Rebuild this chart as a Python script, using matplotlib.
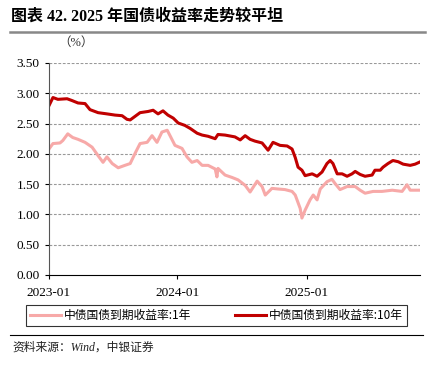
import matplotlib
matplotlib.use("Agg")
import matplotlib.pyplot as plt
import matplotlib.dates as mdates
import pandas as pd

plt.rcParams["font.family"] = ["Liberation Serif", "Noto Sans CJK SC", "DejaVu Sans"]

# 中债国债到期收益率:10年
dates_10y = [
    "2023-01-03", "2023-01-13", "2023-01-27", "2023-02-22", "2023-03-08", "2023-03-25",
    "2023-04-14", "2023-04-28", "2023-05-21", "2023-06-15", "2023-07-08", "2023-07-28",
    "2023-08-11", "2023-08-20", "2023-09-03", "2023-09-17", "2023-10-10", "2023-10-24",
    "2023-11-07", "2023-11-21", "2023-12-05", "2023-12-20", "2024-01-03", "2024-01-22",
    "2024-02-06", "2024-02-26", "2024-03-11", "2024-03-28", "2024-04-17", "2024-04-25",
    "2024-05-15", "2024-06-12", "2024-06-27", "2024-07-11", "2024-07-25", "2024-08-08",
    "2024-08-28", "2024-09-14", "2024-09-28", "2024-10-18", "2024-11-07", "2024-11-21",
    "2024-11-30", "2024-12-08", "2024-12-19", "2024-12-28", "2025-01-17", "2025-01-31",
    "2025-02-14", "2025-02-28", "2025-03-09", "2025-03-17", "2025-03-29", "2025-04-12",
    "2025-04-26", "2025-05-10", "2025-05-19", "2025-06-02", "2025-06-16", "2025-07-06",
    "2025-07-14", "2025-07-29", "2025-08-06", "2025-08-20", "2025-09-03", "2025-09-18",
    "2025-10-02", "2025-10-22", "2025-11-05", "2025-11-20",
]
yield_10y = [
    2.81, 2.93, 2.90, 2.91, 2.88, 2.84,
    2.83, 2.73, 2.68, 2.66, 2.64, 2.63,
    2.57, 2.56, 2.62, 2.68, 2.70, 2.72,
    2.66, 2.71, 2.64, 2.59, 2.51, 2.47,
    2.42, 2.34, 2.31, 2.29, 2.25, 2.32,
    2.31, 2.28, 2.23, 2.30, 2.24, 2.21,
    2.18, 2.06, 2.19, 2.14, 2.13, 2.08,
    1.94, 1.78, 1.73, 1.64, 1.67, 1.63,
    1.70, 1.84, 1.89, 1.84, 1.67, 1.67,
    1.63, 1.67, 1.71, 1.66, 1.63, 1.65,
    1.73, 1.73, 1.78, 1.84, 1.89, 1.87,
    1.83, 1.81, 1.83, 1.87,
]

# 中债国债到期收益率:1年
dates_1y = [
    "2023-01-03", "2023-01-13", "2023-02-02", "2023-02-10", "2023-02-24", "2023-03-10",
    "2023-03-25", "2023-04-14", "2023-05-04", "2023-05-21", "2023-06-04", "2023-06-15",
    "2023-06-30", "2023-07-17", "2023-08-05", "2023-08-20", "2023-09-03", "2023-09-17",
    "2023-10-07", "2023-10-21", "2023-11-04", "2023-11-18", "2023-12-03", "2023-12-11",
    "2023-12-25", "2024-01-14", "2024-01-28", "2024-02-11", "2024-02-26", "2024-03-11",
    "2024-03-28", "2024-04-17", "2024-04-22", "2024-04-25", "2024-05-15", "2024-06-04",
    "2024-06-21", "2024-07-11", "2024-07-25", "2024-08-14", "2024-08-28", "2024-09-06",
    "2024-09-25", "2024-10-12", "2024-11-01", "2024-11-21", "2024-11-30", "2024-12-14",
    "2024-12-19", "2024-12-28", "2025-01-11", "2025-01-20", "2025-01-31", "2025-02-09",
    "2025-02-28", "2025-03-14", "2025-03-23", "2025-04-06", "2025-04-26", "2025-05-19",
    "2025-06-02", "2025-06-16", "2025-07-09", "2025-08-03", "2025-09-01", "2025-09-29",
    "2025-10-13", "2025-10-22", "2025-11-20",
]
yield_1y = [
    2.09, 2.17, 2.18, 2.22, 2.33, 2.27,
    2.24, 2.19, 2.11, 1.97, 1.86, 1.95,
    1.84, 1.77, 1.81, 1.84, 2.01, 2.17,
    2.19, 2.30, 2.19, 2.36, 2.39, 2.30,
    2.14, 2.09, 1.95, 1.86, 1.89, 1.81,
    1.81, 1.75, 1.62, 1.76, 1.65, 1.61,
    1.57, 1.48, 1.37, 1.55, 1.46, 1.32,
    1.43, 1.42, 1.41, 1.38, 1.32, 1.10,
    0.94, 1.07, 1.24, 1.32, 1.24, 1.42,
    1.54, 1.58, 1.51, 1.41, 1.46, 1.46,
    1.40, 1.35, 1.38, 1.38, 1.40, 1.38,
    1.49, 1.40, 1.40,
]

x_ticks = ["2023-01-01", "2024-01-01", "2025-01-01"]
y_ticks = [0.0, 0.5, 1.0, 1.5, 2.0, 2.5, 3.0, 3.5]

fig = plt.figure(figsize=(4.35, 3.65), dpi=100)
ax = fig.add_axes([0.112, 0.2466, 0.8545, 0.5808])

ax.plot(pd.to_datetime(dates_1y), yield_1y, color="#F7A9A8", linewidth=2.2,
        label="中债国债到期收益率:1年")
ax.plot(pd.to_datetime(dates_10y), yield_10y, color="#C00000", linewidth=2.2,
        label="中债国债到期收益率:10年")

ax.set_xlim(pd.Timestamp("2023-01-01"), pd.Timestamp("2025-11-20"))
ax.set_ylim(0, 3.5)
ax.set_yticks(y_ticks)
ax.set_yticklabels(["%.2f" % v for v in y_ticks])
ax.set_xticks(pd.to_datetime(x_ticks))
ax.xaxis.set_major_formatter(mdates.DateFormatter("%Y-%m"))

for v in y_ticks[1:]:
    ax.axhline(v, color="#999999", linewidth=0.8, linestyle=(0, (2.5, 1.5)), zorder=0)

for s in ["top", "right"]:
    ax.spines[s].set_visible(False)
ax.spines["left"].set_color("#555555")
ax.spines["bottom"].set_color("black")
ax.tick_params(axis="both", labelsize=9.5, length=3, width=0.8, direction="out")
ax.tick_params(axis="x", pad=6)

fig.text(0.135, 0.875, "（%）", fontsize=9, color="#333333")

# title + rule
fig.text(0.025, 0.955, "图表 42. 2025 年国债收益率走势较平坦", fontsize=11.5,
         fontweight="bold", va="center")
fig.add_artist(plt.Line2D([0.023, 0.977], [0.912, 0.912], color="#888888",
                          linewidth=1.8, transform=fig.transFigure))

fig.legend(loc="lower left", bbox_to_anchor=(0.046, 0.09, 0.904, 0.066),
           mode="expand", ncol=2, frameon=True, fancybox=False, edgecolor="black",
           fontsize=8.5, handlelength=2.6, handletextpad=0.3, borderpad=0.35,
           prop={"family": ["Noto Sans CJK SC", "DejaVu Sans"], "size": 8.5})
fig.legends[0].get_frame().set_linewidth(0.8)

fig.add_artist(plt.Line2D([0.023, 0.972], [0.082, 0.082], color="black",
                          linewidth=0.8, transform=fig.transFigure))
fig.text(0.028, 0.047, "资料来源：Wind，中银证券", fontsize=8.5, style="italic",
         va="center", color="#222222")

fig.savefig("out.png", dpi=100)
